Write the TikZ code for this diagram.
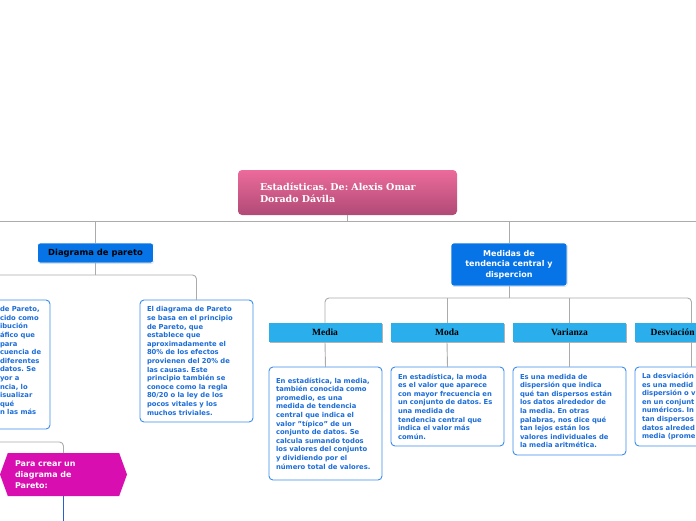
\documentclass[tikz,border=0pt]{standalone}
\usepackage{fontspec}
\setmainfont{DejaVu Sans}
\newfontfamily\slabfont{DejaVu Serif}
\newfontfamily\headfont{Liberation Serif}
\usetikzlibrary{shapes.symbols,shadows}
\definecolor{rootTop}{HTML}{EC6B9B}
\definecolor{rootBot}{HTML}{B04A76}
\definecolor{topicblue}{HTML}{0674E6}
\definecolor{subblue}{HTML}{2AAEEC}
\definecolor{noteline}{HTML}{3C8CEB}
\definecolor{notetext}{HTML}{1C6DD8}
\definecolor{linkgray}{HTML}{ABABAB}
\definecolor{hexpink}{HTML}{D80EB0}
\definecolor{hexline}{HTML}{2A5FD0}
\frenchspacing

\begin{document}
\begin{tikzpicture}[
    x=1pt, y=-1pt,
    every node/.style={inner sep=0pt, outer sep=0pt},
    link/.style={draw=linkgray, line width=0.9pt, rounded corners=4pt},
    rootbox/.style={rectangle, rounded corners=4pt, top color=rootTop, bottom color=rootBot,
        minimum width=219pt, minimum height=45pt, text width=175pt, align=left,
        text=white, font=\slabfont\bfseries\fontsize{9.5}{12}\selectfont},
    topic/.style={rectangle, rounded corners=2.5pt, fill=topicblue, draw=white, line width=0.8pt,
        minimum width=116pt, align=center,
        drop shadow={shadow xshift=0.6pt, shadow yshift=-0.8pt, opacity=0.25}},
    subhead/.style={rectangle, fill=subblue, minimum width=113pt, minimum height=19pt,
        font=\headfont\bfseries\fontsize{9.5}{11}\selectfont,
        drop shadow={shadow xshift=1pt, shadow yshift=-1.2pt, fill=gray, opacity=0.6}},
    note/.style={rectangle, draw=noteline, line width=0.9pt, fill=white, rounded corners=4pt,
        text=notetext, font=\bfseries\fontsize{6.8}{8.6}\selectfont, align=left,
        text width=99pt, inner xsep=7pt},
    hexbox/.style={signal, signal to=west and east, signal pointer angle=140, fill=hexpink,
        minimum width=127pt, minimum height=43pt, text width=97pt, align=left,
        text=white, font=\bfseries\fontsize{8}{11.3}\selectfont}]
    \useasboundingbox (0,0) rectangle (696,520);
    \clip (0,0) rectangle (696,520);

    % NODES
    % root
    \node[rootbox] (root) at (347.5,192.5) {Estadísticas. De: Alexis Omar\\Dorado Dávila};
    % topics
    \node[topic, minimum height=20pt, font=\bfseries\fontsize{8.4}{10}\selectfont] (pareto) at (95.5,253) {Diagrama de pareto};
    \node[topic, minimum height=43pt, text=white, font=\bfseries\fontsize{8}{10.7}\selectfont] (medidas) at (509,264.5) {Medidas de\\tendencia central y\\dispercion};

    % pareto notes
    \node[note, anchor=north east, minimum height=129pt] (parL) at (50,300) {};
    \node[anchor=north west, align=left, text=notetext, font=\bfseries\fontsize{6.8}{8.6}\selectfont] (parLtxt) at (0,306.5) {de Pareto,\\cido como\\ibución\\áfico que\\para\\cuencia de\\diferentes\\datos. Se\\yor a\\ncia, lo\\isualizar\\qué\\n las más};
    \node[note, anchor=north, minimum height=122pt] (parR) at (196.5,300) {El diagrama de Pareto\\se basa en el principio\\de Pareto, que\\establece que\\aproximadamente el\\80\% de los efectos\\provienen del 20\% de\\las causas. Este\\principio también se\\conoce como la regla\\80/20 o la ley de los\\pocos vitales y los\\muchos triviales.};
    % para crear
    \node[hexbox] (crear) at (63.5,474.5) {Para crear un\\diagrama de\\Pareto:};

    % medidas headers
    \node[subhead] (media) at (325,332.5) {Media};
    \node[subhead] (moda) at (447,332.5) {Moda};
    \node[subhead] (varianza) at (569.5,332.5) {Varianza};
    \node[subhead] (desv) at (691.5,332.5) {Desviación estándar};

    % medidas notes
    \node[note, anchor=north, minimum height=113pt] (mediaN) at (325.5,367) {En estadística, la media,\\también conocida como\\promedio, es una\\medida de tendencia\\central que indica el\\valor "típico" de un\\conjunto de datos. Se\\calcula sumando todos\\los valores del conjunto\\y dividiendo por el\\número total de valores.};
    \node[note, anchor=north, minimum height=79pt] (modaN) at (447.5,367) {En estadística, la moda\\es el valor que aparece\\con mayor frecuencia en\\un conjunto de datos. Es\\una medida de\\tendencia central que\\indica el valor más\\común.};
    \node[note, anchor=north, minimum height=88pt] (varianzaN) at (569.5,367) {Es una medida de\\dispersión que indica\\qué tan dispersos están\\los datos alrededor de\\la media. En otras\\palabras, nos dice qué\\tan lejos están los\\valores individuales de\\la media aritmética.};
    \node[note, anchor=north west, minimum height=79pt] (desvN) at (635,367) {La desviación\\es una medid\\dispersión o v\\en un conjunt\\numéricos. In\\tan dispersos\\datos alreded\\media (prome};

    % free ends
    \coordinate (trunkL) at (-10,221);
    \coordinate (trunkR) at (710,221);
    \coordinate (crearbar) at (-10,442);
    \coordinate (crearend) at (63.5,530);

    % CONNECTORS
    \draw[link] (trunkL) -- (trunkR);
    \draw[link] (root.south) -- (root.south |- trunkL);
    \draw[link] (pareto.north |- trunkL) -- (pareto.north);
    \draw[link] (medidas.north |- trunkL) -- (medidas.north);
    % pareto branch
    \draw[link] (parL.north) -- (parL.north |- 0,275) -- (parR.north |- 0,275) -- (parR.north);
    \draw[link] (pareto.south) -- (pareto.south |- 0,275);
    \draw[link] (crearbar) -| (crear.north);
    \draw[draw=hexline, line width=0.9pt] (crear.south) -- (crearend);
    % medidas branch
    \draw[link] (medidas.south) -- (medidas.south |- 0,298);
    \draw[link] (media.north) -- (media.north |- 0,298) -- (desv.north |- 0,298) -- (desv.north);
    \draw[link] (moda.north |- 0,298) -- (moda.north);
    \draw[link] (varianza.north |- 0,298) -- (varianza.north);
    \foreach \h in {media,moda,varianza,desv}
      \draw[link] (\h.south) -- (\h N.north);
  \end{tikzpicture}
\end{document}
